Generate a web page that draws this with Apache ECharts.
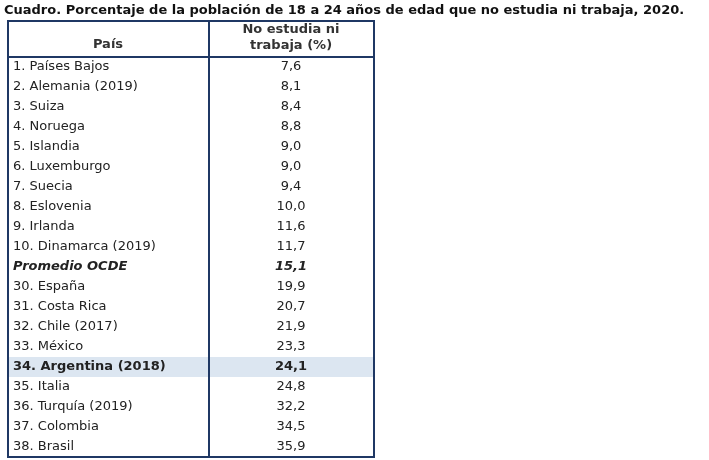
<!DOCTYPE html><html><head><meta charset="utf-8">
<script src="https://cdn.jsdelivr.net/npm/echarts@6/dist/echarts.min.js"></script>
<style>html,body{margin:0;background:#fff}#c{width:709px;height:460px}</style></head><body><div id="c"></div>
<script>
const countries=["1. Países Bajos","2. Alemania (2019)","3. Suiza","4. Noruega","5. Islandia","6. Luxemburgo","7. Suecia","8. Eslovenia","9. Irlanda","10. Dinamarca (2019)","Promedio OCDE","30. España","31. Costa Rica","32. Chile (2017)","33. México","34. Argentina (2018)","35. Italia","36. Turquía (2019)","37. Colombia","38. Brasil"];
const values=[7.6,8.1,8.4,8.8,9.0,9.0,9.4,10.0,11.6,11.7,15.1,19.9,20.7,21.9,23.3,24.1,24.8,32.2,34.5,35.9];
const title="Cuadro. Porcentaje de la población de 18 a 24 años de edad que no estudia ni trabaja, 2020.";
const headers=["País","No estudia ni\ntrabaja (%)"];
const F='"DejaVu Sans",Verdana,sans-serif';
const chart=echarts.init(document.getElementById('c'));
const fmt=v=>v.toFixed(1).replace('.',',');
chart.setOption({
 animation:false,
 grid:{left:7,right:335,top:57,bottom:3},
 xAxis:{type:'value',min:0,max:1,show:false},
 yAxis:{type:'category',data:countries,inverse:true,show:false},
 series:[{type:'custom',data:countries.map((c,i)=>[i,values[i]]),
  renderItem:(p,api)=>{
   const i=api.value(0);const pt=api.coord([0,i]);const pr=api.coord([1,i]);
   const h=api.size([0,1])[1];const y=pt[1];
   const promo=countries[i]==="Promedio OCDE", arg=countries[i].indexOf("Argentina")>=0;
   const ch=[];
   if(arg) ch.push({type:'rect',shape:{x:pt[0]+1,y:y-h/2,width:pr[0]-pt[0]-2,height:h},style:{fill:'#dce6f1'}});
   ch.push({type:'text',style:{text:countries[i],x:pt[0]+6,y:y,verticalAlign:'middle',font:(promo?'italic bold ':arg?'bold ':'')+'13px '+F,fill:'#222'}});
   ch.push({type:'text',style:{text:fmt(values[i]),x:291,y:y,align:'center',verticalAlign:'middle',font:(promo?'italic bold ':arg?'bold ':'')+'13px '+F,fill:'#222'}});
   return {type:'group',children:ch};
  }}],
 graphic:[
  {type:'text',left:4,top:4,style:{text:title,font:'bold 13px '+F,fill:'#111'}},
  {type:'text',x:108,y:45,style:{text:headers[0],align:'center',verticalAlign:'middle',font:'bold 13px '+F,fill:'#333'}},
  {type:'text',x:291,y:38,style:{text:headers[1],align:'center',verticalAlign:'middle',font:'bold 13px '+F,fill:'#333',lineHeight:16}},
  {type:'rect',shape:{x:8,y:21,width:366,height:436},style:{fill:'none',stroke:'#1f3864',lineWidth:2},z:10},
  {type:'line',shape:{x1:8,y1:57,x2:374,y2:57},style:{stroke:'#1f3864',lineWidth:2},z:10},
  {type:'line',shape:{x1:209,y1:21,x2:209,y2:457},style:{stroke:'#1f3864',lineWidth:2},z:10}
 ]
});
</script></body></html>
